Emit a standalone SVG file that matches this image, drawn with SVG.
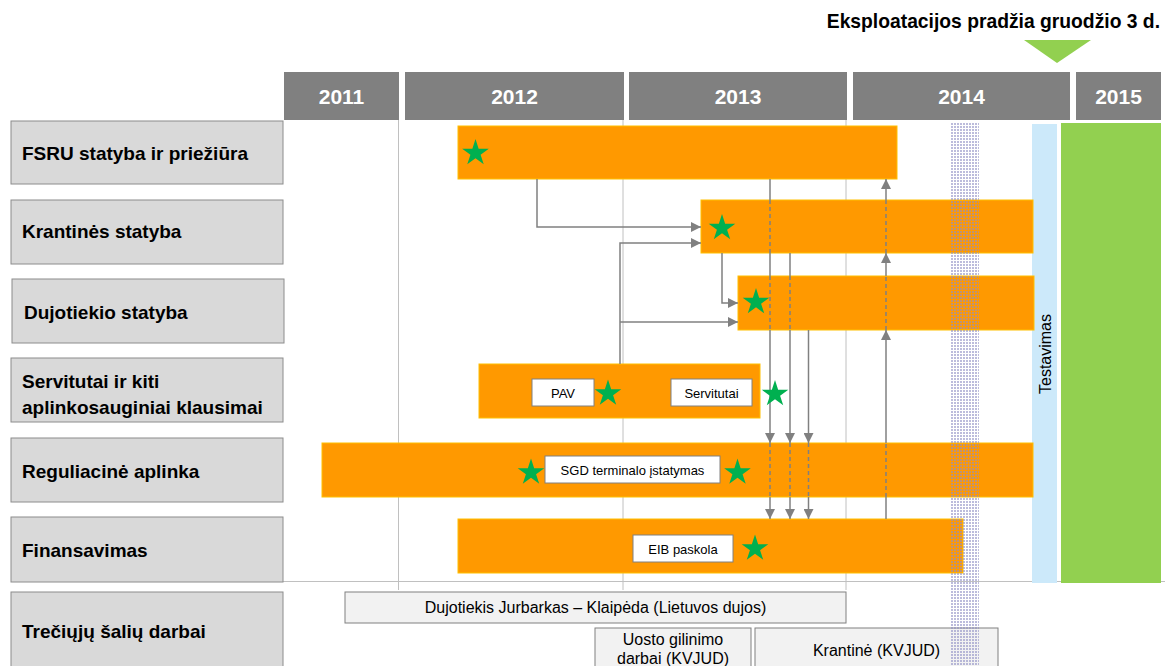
<svg xmlns="http://www.w3.org/2000/svg" width="1165" height="666" viewBox="0 0 1165 666">
<style>
text{font-family:"Liberation Sans",Arial,sans-serif;}
.lbl{fill:#d9d9d9;stroke:#8c8c8c;stroke-width:1;}
.lt{font-size:19px;font-weight:bold;fill:#000;}
.yr{fill:#808080;}
.yt{font-size:21px;font-weight:bold;fill:#fff;text-anchor:middle;}
.bar{fill:#ff9900;stroke:#ffc000;stroke-width:1;}
.wb{fill:#fff;stroke:#808080;stroke-width:1;}
.wt{font-size:13px;fill:#000;text-anchor:middle;}
.tp{fill:#f2f2f2;stroke:#808080;stroke-width:1;}
.tt{font-size:16px;fill:#000;text-anchor:middle;}
.grid{stroke:#c0c0c0;stroke-width:1;fill:none;}
.c{stroke:#808080;stroke-width:1.5;fill:none;}
.d{stroke:#808080;stroke-width:1.5;fill:none;stroke-dasharray:4 3;}
.star{fill:#00b050;}
</style>
<defs>
<marker id="ah" viewBox="0 0 10 10" refX="10" refY="5" markerWidth="10" markerHeight="10" markerUnits="userSpaceOnUse" orient="auto">
<path d="M0,0 L10,5 L0,10 Z" fill="#808080"/>
</marker>
<path id="st" d="M0,-14 L3.14,-4.33 L13.31,-4.33 L5.09,1.65 L8.23,11.33 L0,5.35 L-8.23,11.33 L-5.09,1.65 L-13.31,-4.33 L-3.14,-4.33 Z"/>
<pattern id="hatch" width="3" height="3" patternUnits="userSpaceOnUse">
<rect x="0" y="0" width="2" height="2" fill="#8f8fc4" fill-opacity="0.6"/>
</pattern>
</defs>

<g id="title">
<text x="1160" y="28" font-size="19.3" font-weight="bold" text-anchor="end">Eksploatacijos pradžia gruodžio 3 d.</text>
<polygon points="1024,40 1091,40 1057,63" fill="#92d050"/>
</g>

<g id="years">
<rect class="yr" x="284" y="72" width="115" height="48"/>
<text class="yt" x="341.5" y="104">2011</text>
<rect class="yr" x="405" y="72" width="219" height="48"/>
<text class="yt" x="514.5" y="104">2012</text>
<rect class="yr" x="629" y="72" width="218" height="48"/>
<text class="yt" x="738" y="104">2013</text>
<rect class="yr" x="853" y="72" width="217" height="48"/>
<text class="yt" x="961.5" y="104">2014</text>
<rect class="yr" x="1076" y="72" width="85" height="48"/>
<text class="yt" x="1118.5" y="104">2015</text>
</g>

<g id="grid">
<line class="grid" x1="398.5" y1="120" x2="398.5" y2="590"/>
<line class="grid" x1="623" y1="120" x2="623" y2="590"/>
<line class="grid" x1="846" y1="120" x2="846" y2="590"/>
<line class="grid" x1="283" y1="581.5" x2="1165" y2="581.5"/>
</g>

<g id="labels">
<g id="lbl-fsru"><rect class="lbl" x="11" y="121" width="272" height="63"/><text class="lt" x="22" y="160">FSRU statyba ir priežiūra</text></g>
<g id="lbl-krantines"><rect class="lbl" x="11" y="200" width="272" height="64"/><text class="lt" x="22" y="238">Krantinės statyba</text></g>
<g id="lbl-dujotiekio"><rect class="lbl" x="12" y="279" width="272" height="64"/><text class="lt" x="24" y="319">Dujotiekio statyba</text></g>
<g id="lbl-servitutai"><rect class="lbl" x="11" y="358" width="272" height="64"/><text class="lt" x="22" y="388">Servitutai ir kiti</text><text class="lt" x="22" y="414">aplinkosauginiai klausimai</text></g>
<g id="lbl-reguliacine"><rect class="lbl" x="11" y="438" width="272" height="64"/><text class="lt" x="22" y="478">Reguliacinė aplinka</text></g>
<g id="lbl-finansavimas"><rect class="lbl" x="11" y="517" width="272" height="65"/><text class="lt" x="22" y="557">Finansavimas</text></g>
<g id="lbl-treciuju"><rect class="lbl" x="11" y="592" width="272" height="80"/><text class="lt" x="22" y="638">Trečiųjų šalių darbai</text></g>
</g>

<g id="testavimas">
<rect x="1032" y="124" width="25" height="459" fill="#cce9fa"/>
<text x="0" y="0" font-size="16" text-anchor="middle" transform="translate(1050.5,354) rotate(-90)">Testavimas</text>
</g>
<g id="eksploatacija">
<rect x="1061" y="123" width="100" height="460" fill="#92d050"/>
</g>

<g id="bars">
<g id="bar-fsru"><rect class="bar" x="458" y="126" width="439" height="53"/></g>
<g id="bar-krantines"><rect class="bar" x="701" y="200" width="332" height="53"/></g>
<g id="bar-dujotiekio"><rect class="bar" x="738" y="276" width="296" height="54"/></g>
<g id="bar-servitutai"><rect class="bar" x="479" y="364" width="281" height="54"/>
<rect class="wb" x="532" y="379" width="62" height="27"/><text class="wt" x="563" y="397.5">PAV</text>
<rect class="wb" x="671" y="379" width="81" height="27"/><text class="wt" x="711.5" y="397.5">Servitutai</text>
</g>
<g id="bar-reguliacine"><rect class="bar" x="322" y="443" width="711" height="54"/>
<rect class="wb" x="545" y="456" width="175" height="27"/><text class="wt" x="632.5" y="474.5">SGD terminalo įstatymas</text>
</g>
<g id="bar-finansavimas"><rect class="bar" x="458" y="519" width="505" height="54"/>
<rect class="wb" x="633" y="535" width="100" height="27"/><text class="wt" x="683" y="553.5">EIB paskola</text>
</g>
</g>

<g id="third-party">
<g id="tp-dujotiekis"><rect class="tp" x="345" y="592" width="501" height="31"/><text class="tt" x="595.5" y="613">Dujotiekis Jurbarkas – Klaipėda (Lietuvos dujos)</text></g>
<g id="tp-uosto"><rect class="tp" x="595" y="628" width="156" height="50"/><text class="tt" x="673" y="645">Uosto gilinimo</text><text class="tt" x="673" y="664">darbai (KVJUD)</text></g>
<g id="tp-krantine"><rect class="tp" x="755" y="628" width="243" height="50"/><text class="tt" x="876.5" y="656">Krantinė (KVJUD)</text></g>
</g>

<g id="connectors">
<path class="c" d="M537,179 V227 H701" marker-end="url(#ah)"/>
<path class="c" d="M620,364 V243 H701" marker-end="url(#ah)"/>
<path class="c" d="M620,322 H738" marker-end="url(#ah)"/>
<path class="c" d="M722,253 V303 H738" marker-end="url(#ah)"/>
<path class="c" d="M770,179 V200"/>
<path class="d" d="M770,200 V253"/>
<path class="c" d="M770,253 V276"/>
<path class="d" d="M770,276 V330"/>
<path class="c" d="M770,330 V443" marker-end="url(#ah)"/>
<path class="d" d="M770,443 V497"/>
<path class="c" d="M770,497 V519" marker-end="url(#ah)"/>
<path class="c" d="M790,253 V276"/>
<path class="d" d="M790,276 V330"/>
<path class="c" d="M790,330 V443" marker-end="url(#ah)"/>
<path class="d" d="M790,443 V497"/>
<path class="c" d="M790,497 V519" marker-end="url(#ah)"/>
<path class="c" d="M808.5,330 V443" marker-end="url(#ah)"/>
<path class="d" d="M808.5,443 V497"/>
<path class="c" d="M808.5,497 V519" marker-end="url(#ah)"/>
<path class="c" d="M886,519 V497"/>
<path class="d" d="M886,497 V443"/>
<path class="c" d="M886,443 V330" marker-end="url(#ah)"/>
<path class="d" d="M886,330 V276"/>
<path class="c" d="M886,276 V253" marker-end="url(#ah)"/>
<path class="d" d="M886,253 V200"/>
<path class="c" d="M886,200 V179" marker-end="url(#ah)"/>
</g>

<g id="stars">
<use href="#st" class="star" x="475.5" y="153"/>
<use href="#st" class="star" x="722" y="228"/>
<use href="#st" class="star" x="756" y="302"/>
<use href="#st" class="star" x="608" y="393.5"/>
<use href="#st" class="star" x="775" y="394"/>
<use href="#st" class="star" x="531" y="472.5"/>
<use href="#st" class="star" x="737.5" y="472.5"/>
<use href="#st" class="star" x="755" y="548.5"/>
</g>

<g id="milestone-band">
<rect x="951" y="122" width="28" height="544" fill="url(#hatch)"/>
</g>
</svg>
